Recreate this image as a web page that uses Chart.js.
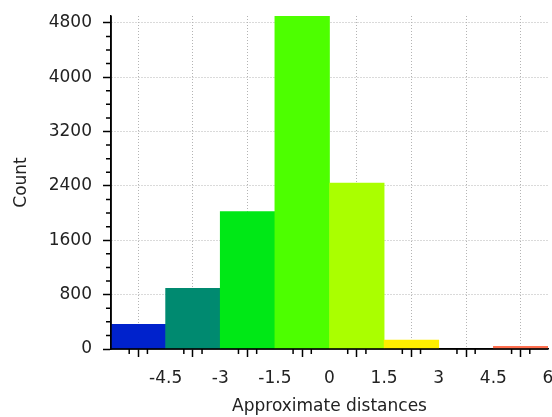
<!DOCTYPE html>
<html>
<head>
<meta charset="utf-8">
<script src="https://cdn.jsdelivr.net/npm/chart.js@4"></script>
<style>
  html, body { margin: 0; padding: 0; background: #fff; }
  #wrap { width: 552px; height: 417px; }
</style>
</head>
<body>
<div id="wrap"><canvas id="chart" width="552" height="417"></canvas></div>
<script>
// histogram bins (start of each bin, width 1.5)
const binStarts = [-6, -4.5, -3, -1.5, 0, 1.5, 3, 4.5];
const binWidth = 1.5;
const counts = [362, 892, 2022, 4900, 2440, 130, 0, 38];
const binColors = ['#0022cc', '#008a70', '#00e816', '#4dff00', '#aaff00', '#ffee00', 'rgba(0,0,0,0)', '#ff7050'];

const xTickLabels = [-4.5, -3, -1.5, 0, 1.5, 3, 4.5, 6];
const yTickLabels = [0, 800, 1600, 2400, 3200, 4000, 4800];
const xMinorStep = 0.5;
const yMinorStep = 200;

const FONT = 'DejaVu Sans';

function rangeTicks(min, max, step) {
  const out = [];
  for (let v = min; v <= max + 1e-9; v += step) out.push({ value: Math.round(v * 100) / 100 });
  return out;
}
const isMajorX = v => Math.abs(v / 1.5 - Math.round(v / 1.5)) < 1e-6;
const isMajorY = v => v % 800 === 0;

// small ticks between the labelled ones, and the axis lines on top of the bars
const axisOverlay = {
  id: 'axisOverlay',
  afterDatasetsDraw(chart) {
    const c = chart.ctx;
    const xs = chart.scales.x, ys = chart.scales.y;
    c.save();
    c.strokeStyle = '#000';
    c.lineWidth = 1.5;
    c.beginPath();
    rangeTicks(-6, 6, xMinorStep).forEach(t => {
      if (isMajorX(t.value)) return;
      const px = xs.getPixelForValue(t.value);
      c.moveTo(px, ys.bottom);
      c.lineTo(px, ys.bottom + 5);
    });
    rangeTicks(0, 4800, yMinorStep).forEach(t => {
      if (isMajorY(t.value)) return;
      const py = ys.getPixelForValue(t.value);
      c.moveTo(xs.left - 5, py);
      c.lineTo(xs.left, py);
    });
    c.moveTo(xs.left, ys.bottom);
    c.lineTo(xs.right, ys.bottom);
    c.moveTo(xs.left, ys.top);
    c.lineTo(xs.left, ys.bottom);
    c.stroke();
    c.restore();
  }
};

new Chart(document.getElementById('chart'), {
  type: 'bar',
  data: {
    datasets: [{
      label: 'Count',
      data: binStarts.map((s, i) => ({ x: s + binWidth / 2, y: counts[i] })),
      backgroundColor: binColors,
      borderWidth: 0,
      barPercentage: 1,
      categoryPercentage: 1
    }]
  },
  options: {
    responsive: false,
    animation: false,
    layout: { padding: { left: 11, right: 4, top: 16, bottom: 0 } },
    plugins: { legend: { display: false }, tooltip: { enabled: false } },
    scales: {
      x: {
        type: 'linear',
        min: -6,
        max: 6,
        offset: false,
        afterBuildTicks: s => { s.ticks = rangeTicks(-6, 6, binWidth); },
        afterFit: s => { s.height = 68; s.paddingLeft = 0; s.paddingRight = 0; },
        ticks: {
          autoSkip: false,
          maxRotation: 0,
          padding: 11,
          color: '#222',
          font: { family: FONT, size: 17 },
          callback: v => xTickLabels.includes(v) ? String(v) : ''
        },
        grid: {
          tickLength: 8,
          lineWidth: 1,
          color: ctx => (ctx.tick && ctx.tick.value !== -6) ? '#b4b4b4' : 'rgba(0,0,0,0)',
          tickColor: '#000',
          tickWidth: 1.5
        },
        border: { color: '#000', width: 1.5, dash: [1, 2] },
        title: {
          display: true,
          text: 'Approximate distances',
          color: '#222',
          font: { family: FONT, size: 17 },
          padding: { top: 0, bottom: 0 }
        }
      },
      y: {
        min: 0,
        max: 4900,
        afterBuildTicks: s => { s.ticks = yTickLabels.map(v => ({ value: v })); },
        afterFit: s => { s.width = 100; s.paddingTop = 0; s.paddingBottom = 0; },
        ticks: {
          autoSkip: false,
          padding: 11,
          color: '#222',
          font: { family: FONT, size: 17 },
          callback: v => String(v)
        },
        grid: {
          tickLength: 8,
          lineWidth: 1,
          color: ctx => (ctx.tick && ctx.tick.value !== 0) ? '#b4b4b4' : 'rgba(0,0,0,0)',
          tickColor: '#000',
          tickWidth: 1.5
        },
        border: { color: '#000', width: 1.5, dash: [1, 2] },
        title: {
          display: true,
          text: 'Count',
          color: '#222',
          font: { family: FONT, size: 17 },
          padding: { top: 0, bottom: 0 }
        }
      }
    }
  },
  plugins: [axisOverlay]
});
</script>
</body>
</html>
